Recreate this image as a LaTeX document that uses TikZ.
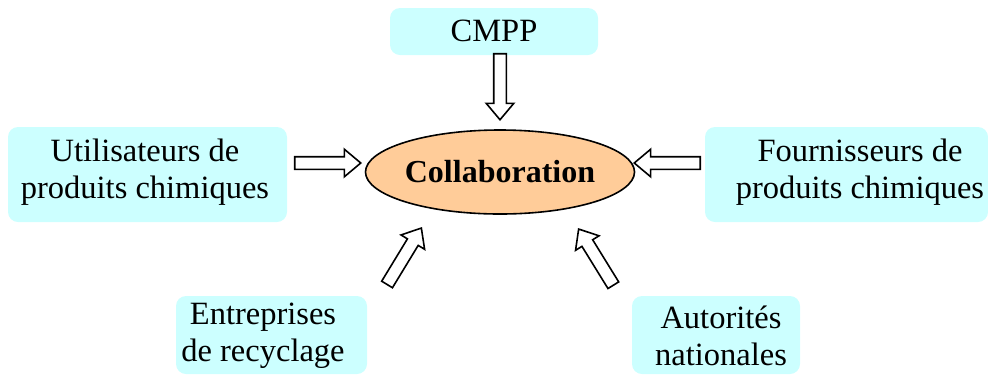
\documentclass[tikz,border=0pt]{standalone}
\usepackage{fontspec}
\setmainfont{Liberation Serif}
\usetikzlibrary{shapes.geometric,shapes.arrows}

\definecolor{boxcyan}{HTML}{CCFFFF}
\definecolor{peach}{HTML}{FFCC99}

\tikzset{
  partbox/.style={rectangle, rounded corners=10pt, fill=boxcyan, draw=none, inner sep=0pt},
  parttext/.style={align=center, inner sep=0pt, font=\fontsize{32.5}{37}\selectfont},
  blockarrow/.style={single arrow, draw=black, line width=1.6pt, fill=white,
    inner xsep=0pt, inner ysep=5.5pt, single arrow head extend=7.5pt,
    single arrow tip angle=80, minimum height=66pt, anchor=tip}
}

\begin{document}
\begin{tikzpicture}[x=1pt, y=-1pt]
  \useasboundingbox (0,0) rectangle (988,376);

  % Centre
  \node[ellipse, draw, line width=1.6pt, fill=peach, minimum width=264pt, minimum height=84pt,
        inner sep=0pt, font=\fontsize{32}{37}\selectfont\bfseries] (collab) at (500,172) {Collaboration};

  % Partners
  \node[partbox, minimum width=208pt, minimum height=47pt] (cmpp) at (494,31.5) {};
  \node[parttext] (cmppT) at (494,31) {CMPP};

  \node[partbox, minimum width=279pt, minimum height=95pt] (users) at (147.5,174.5) {};
  \node[parttext] (usersT) at (145,172) {Utilisateurs de\\produits chimiques};

  \node[partbox, minimum width=283pt, minimum height=95pt] (suppliers) at (846.5,174.5) {};
  \node[parttext] (suppliersT) at (860,172) {Fournisseurs de\\produits chimiques};

  \node[partbox, minimum width=191pt, minimum height=78pt] (recycl) at (271.5,335) {};
  \node[parttext] (recyclT) at (263,336) {Entreprises\\de recyclage};

  \node[partbox, minimum width=168pt, minimum height=78pt] (auth) at (716,335) {};
  \node[parttext] (authT) at (721,336) {Autorités\\nationales};

  % Arrows
  \node[blockarrow, rotate=-90] (arrCmpp) at (500,121) {};
  \node[blockarrow, rotate=0] (arrUsers) at (362,163) {};
  \node[blockarrow, rotate=180] (arrSuppliers) at (633,163) {};
  \node[blockarrow, rotate=58.7] (arrRecycl) at (422,227) {};
  \node[blockarrow, rotate=121.7] (arrAuth) at (578,228) {};
\end{tikzpicture}
\end{document}
